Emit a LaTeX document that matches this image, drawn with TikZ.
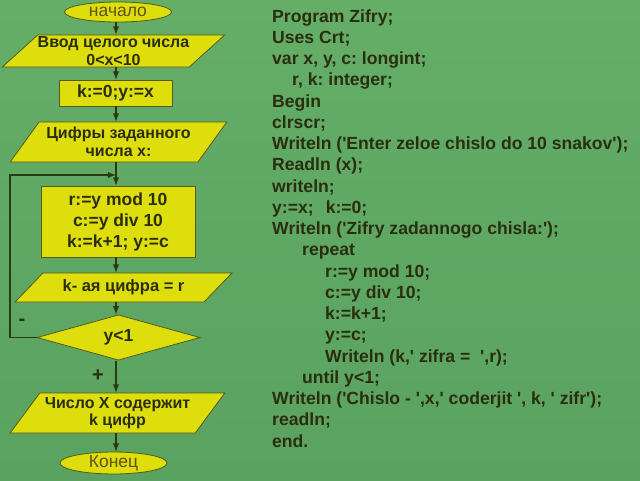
\documentclass[tikz,border=0pt]{standalone}
\usepackage{fontspec}
\setmainfont{Liberation Sans}
\usetikzlibrary{arrows,shapes.geometric}
\definecolor{bggreen}{RGB}{100,174,104}
\definecolor{bgdark}{RGB}{90,162,96}
\definecolor{boxfill}{RGB}{222,222,12}
\definecolor{boxline}{RGB}{88,90,20}
\definecolor{ink}{RGB}{42,46,14}
\definecolor{termink}{RGB}{96,80,22}
\definecolor{arrowc}{RGB}{44,58,20}
\newcommand{\q}{\textquotesingle}
\newcommand{\flowfont}{\fontsize{16}{17.5}\selectfont\bfseries}
\newcommand{\codefont}{\fontsize{17.6}{21}\selectfont\bfseries}
\frenchspacing

\begin{document}
\begin{tikzpicture}[x=1pt,y=-1pt,>=latex,
    box/.style={draw=boxline,fill=boxfill,line width=0.8pt,text=ink,font=\flowfont,align=center,inner sep=0pt},
    term/.style={box,ellipse,minimum width=107,minimum height=20,text=termink,font=\fontsize{17.5}{18}\selectfont},
    io/.style={box,trapezium,trapezium stretches=true},
    proc/.style={box,rectangle,font=\fontsize{17.5}{21}\selectfont\bfseries},
    test/.style={box,diamond,font=\fontsize{17.5}{18}\selectfont\bfseries},
    flow/.style={->,line width=1.8pt,draw=arrowc},
    code/.style={anchor=base west,inner sep=0pt,font=\codefont,text=ink}]
    \shade[top color=bggreen,bottom color=bgdark] (0,0) rectangle (640,480);
    \coordinate (axis) at (116,0);
    % flowchart
    \node[term] (start) at (118,12) {начало};
    \node[io,trapezium left angle=39,trapezium right angle=141,minimum width=217,minimum height=32]
      (in1) at (113.5,51) {Ввод целого числа\\0<x<10};
    \node[proc,minimum width=113,minimum height=26] (init) at (115.5,93) {k:=0;y:=x};
    \node[io,trapezium left angle=48,trapezium right angle=132,minimum width=217,minimum height=40]
      (out1) at (118.5,142) {Цифры заданного\\числа x:};
    \node[proc,minimum width=154,minimum height=71]
      (body) at (118,221.5) {r:=y mod 10\\c:=y div 10\\k:=k+1; y:=c};
    \node[io,trapezium left angle=36,trapezium right angle=144,minimum width=217,minimum height=29,
      font=\fontsize{16.5}{18}\selectfont\bfseries] (out2) at (123.5,287.5) {k- ая цифра = r};
    \node[test,minimum width=163,minimum height=39] (cond) at (118.5,337.5) {y<1};
    \node[io,trapezium left angle=49,trapezium right angle=131,minimum width=215,minimum height=40]
      (out3) at (117.5,413) {Число X содержит\\k цифр};
    \node[term] (stop) at (113.5,463) {Конец};
    \coordinate (merge) at (116,175);
    % connectors
    \draw[flow] (start.south -| axis) -- (in1.north -| axis);
    \draw[flow] (in1.south -| axis) -- (init.north -| axis);
    \draw[flow] (init.south -| axis) -- (out1.north -| axis);
    \draw[flow] (out1.south -| axis) -- (body.north -| axis);
    \draw[flow] (body.south -| axis) -- (out2.north -| axis);
    \draw[flow] (out2.south -| axis) -- (cond.north -| axis);
    \draw[flow] (cond.south -| axis) -- (out3.north -| axis);
    \draw[flow] (out3.south -| axis) -- (stop.north -| axis);
    \draw[flow] (cond.west) -- ++(-27,0) |- (merge);
    \node[font=\fontsize{20}{20}\selectfont\bfseries,text=ink] (minus) at (22,322) {-};
    \node[font=\fontsize{20}{20}\selectfont\bfseries,text=ink] (plus) at (98,376) {+};
    % program text
    \foreach [count=\n from 0] \ind/\txt in {
        0/{Program Zifry;},
        0/{Uses Crt;},
        0/{var x, y, c: longint;},
        20/{r, k: integer;},
        0/{Begin},
        0/{clrscr;},
        0/{Writeln (\q{}Enter zeloe chislo do 10 snakov\q{});},
        0/{Readln (x);},
        0/{writeln;},
        0/{y:=x;\hspace{12pt}k:=0;},
        0/{Writeln (\q{}Zifry zadannogo chisla:\q{});},
        30/{repeat},
        53/{r:=y mod 10;},
        53/{c:=y div 10;},
        53/{k:=k+1;},
        53/{y:=c;},
        53/{Writeln (k,\q{} zifra =\ \ \q{},r);},
        30/{until y<1;},
        0/{Writeln (\q{}Chislo - \q{},x,\q{} coderjit \q{}, k, \q{} zifr\q{});},
        0/{readln;},
        0/{end.}}
      \node[code] (line\n) at (272+\ind,22+21.25*\n) {\txt};
\end{tikzpicture}
\end{document}
